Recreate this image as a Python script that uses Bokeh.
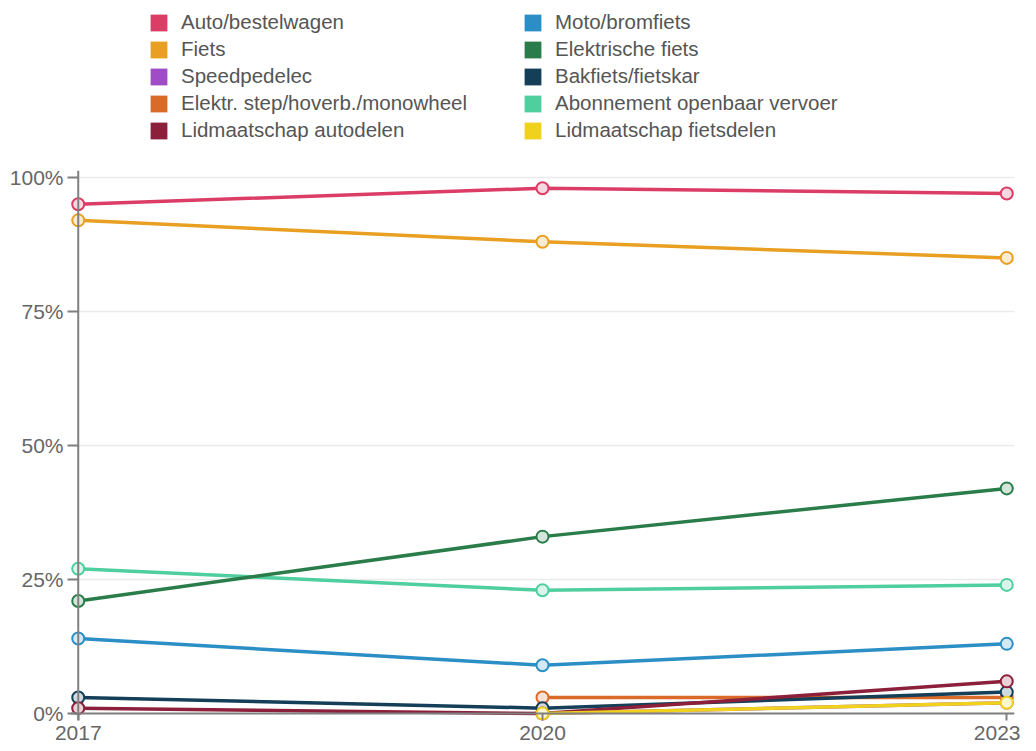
from bokeh.plotting import figure
from bokeh.layouts import column
from bokeh.models import Range1d, FixedTicker, PrintfTickFormatter, Legend, LegendItem, ColumnDataSource, Span
from bokeh.embed import file_html
from bokeh.resources import INLINE

nan = float("nan")
years = [2017, 2020, 2023]
y_ticks = [0, 25, 50, 75, 100]

auto = [95, 98, 97]
fiets = [92, 88, 85]
speedpedelec = [nan, 0, 2]
step = [nan, 3, 3]
autodelen = [1, 0, 6]
moto = [14, 9, 13]
elfiets = [21, 33, 42]
bakfiets = [3, 1, 4]
ov = [27, 23, 24]
fietsdelen = [nan, 0, 2]

labels = ["Auto/bestelwagen", "Fiets", "Speedpedelec", "Elektr. step/hoverb./monowheel",
          "Lidmaatschap autodelen", "Moto/bromfiets", "Elektrische fiets", "Bakfiets/fietskar",
          "Abonnement openbaar vervoer", "Lidmaatschap fietsdelen"]
values = [auto, fiets, speedpedelec, step, autodelen, moto, elfiets, bakfiets, ov, fietsdelen]
colors = ["#db3d66", "#e89f22", "#a04cc6", "#d96a28", "#8c1f3a", "#2b8fc6", "#2a7d4a",
          "#153f58", "#4fcf9f", "#f0d21c"]
draw_order = [2, 3, 7, 4, 9, 5, 8, 6, 1, 0]

FONT = "Liberation Sans"
AXIS_COLOR = "#808080"


def tint(hexc, f=0.8):
    h = hexc.lstrip("#")
    r, g, b = (int(h[i:i + 2], 16) for i in (0, 2, 4))
    r, g, b = (round(c + (255 - c) * f) for c in (r, g, b))
    return "#%02x%02x%02x" % (r, g, b)


# ---- legend strip ----
lf = figure(width=1020, height=150, x_range=Range1d(0, 1), y_range=Range1d(0, 1),
            output_backend="svg", toolbar_location=None, x_axis_type=None, y_axis_type=None,
            min_border=0, min_border_left=0, min_border_right=0, min_border_top=0, min_border_bottom=0)
lf.outline_line_color = None
lf.xgrid.visible = False
lf.ygrid.visible = False
items = []
for i in range(len(labels)):
    # legend proxy (NaN position: never drawn in the plot area, only in the legend)
    r = lf.quad(left=[nan], right=[nan], top=[nan], bottom=[nan], fill_color=colors[i], line_color=None)
    items.append(LegendItem(label=labels[i], renderers=[r]))
legend = Legend(items=items, location=(78, 8), ncols=2, orientation="vertical",
                glyph_width=21, glyph_height=21, label_standoff=12, label_height=21,
                spacing=3, label_width=338, padding=0, margin=0,
                border_line_color=None, background_fill_alpha=0,
                label_text_font=FONT, label_text_font_size="20.5px",
                label_text_color="#555555")
lf.add_layout(legend)

# ---- main chart ----
p = figure(width=1020, height=595, x_range=Range1d(2016.95, 2023.05), y_range=Range1d(-1.3, 101.3),
           output_backend="svg", toolbar_location=None,
           min_border_left=70, min_border_right=6, min_border_top=20, min_border_bottom=25)
p.outline_line_color = None

p.add_layout(Span(location=0, dimension="width", line_color=AXIS_COLOR, line_width=2))
p.add_layout(Span(location=2017, dimension="height", line_color=AXIS_COLOR, line_width=2))

for i in draw_order:
    src = ColumnDataSource(dict(x=years, y=values[i]))
    p.line("x", "y", source=src, line_color=colors[i], line_width=3.5)
    p.scatter("x", "y", source=src, size=12, fill_color=tint(colors[i]), line_color=colors[i], line_width=2)

xa = p.xaxis[0]
xa.ticker = FixedTicker(ticks=years)
xa.major_tick_in = 7
xa.major_tick_out = 0
xa.minor_tick_line_color = None
xa.axis_line_color = None
xa.major_tick_line_color = AXIS_COLOR
xa.major_tick_line_width = 2
xa.major_label_text_font = FONT
xa.major_label_text_font_size = "21px"
xa.major_label_text_color = "#666666"
xa.major_label_standoff = 5

ya = p.yaxis[0]
ya.ticker = FixedTicker(ticks=y_ticks)
ya.formatter = PrintfTickFormatter(format="%d%%")
ya.major_tick_in = 8
ya.major_tick_out = 3
ya.minor_tick_line_color = None
ya.axis_line_color = None
ya.major_tick_line_color = AXIS_COLOR
ya.major_tick_line_width = 2
ya.major_label_text_font = FONT
ya.major_label_text_font_size = "21px"
ya.major_label_text_color = "#666666"
ya.major_label_standoff = 4

p.xgrid.grid_line_color = None
p.ygrid.grid_line_color = "#ebebeb"
p.ygrid.grid_line_width = 1.5

layout = column(lf, p, spacing=0)
open("out.html", "w").write(file_html(layout, INLINE))
